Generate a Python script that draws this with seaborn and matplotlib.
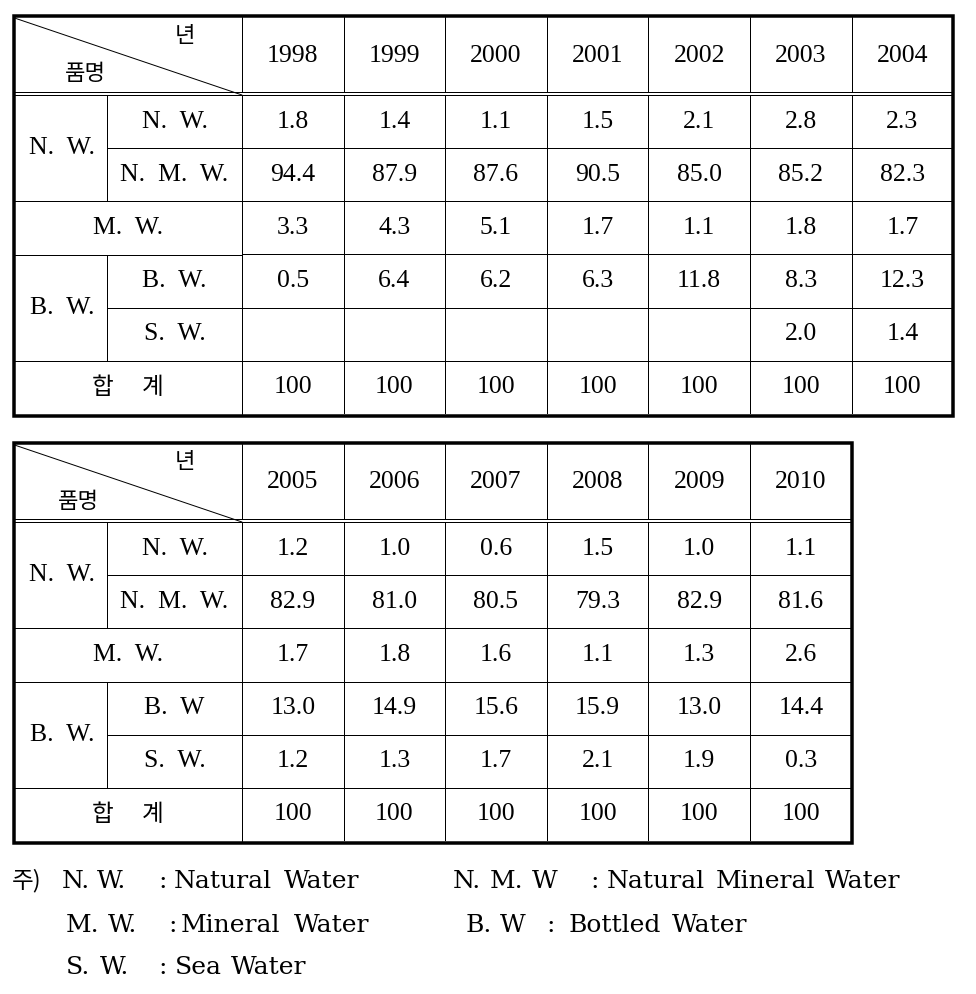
import numpy as np
import pandas as pd
import matplotlib
matplotlib.use("Agg")
import matplotlib.pyplot as plt
from matplotlib.colors import ListedColormap
import seaborn as sns

# share of each water type (%), by year
years_a = [1998, 1999, 2000, 2001, 2002, 2003, 2004]
nw_a = [1.8, 1.4, 1.1, 1.5, 2.1, 2.8, 2.3]
nmw_a = [94.4, 87.9, 87.6, 90.5, 85.0, 85.2, 82.3]
mw_a = [3.3, 4.3, 5.1, 1.7, 1.1, 1.8, 1.7]
bw_a = [0.5, 6.4, 6.2, 6.3, 11.8, 8.3, 12.3]
sw_a = [None, None, None, None, None, 2.0, 1.4]
total_a = [100, 100, 100, 100, 100, 100, 100]

years_b = [2005, 2006, 2007, 2008, 2009, 2010]
nw_b = [1.2, 1.0, 0.6, 1.5, 1.0, 1.1]
nmw_b = [82.9, 81.0, 80.5, 79.3, 82.9, 81.6]
mw_b = [1.7, 1.8, 1.6, 1.1, 1.3, 2.6]
bw_b = [13.0, 14.9, 15.6, 15.9, 13.0, 14.4]
sw_b = [1.2, 1.3, 1.7, 2.1, 1.9, 0.3]
total_b = [100, 100, 100, 100, 100, 100]

notes = [
    [("N.", 62), ("W.", 97), (":", 158), ("Natural", 174), ("Water", 284),
     ("N.", 453), ("M.", 490), ("W", 532), (":", 590), ("Natural", 607), ("Mineral", 716), ("Water", 825)],
    [("M.", 66), ("W.", 108), (":", 168), ("Mineral", 181), ("Water", 294),
     ("B.", 466), ("W", 500), (":", 546), ("Bottled", 569), ("Water", 672)],
    [("S.", 66), ("W.", 100), (":", 158), ("Sea", 175), ("Water", 231)],
]

sns.set_theme(style="white")
SERIF = ["Liberation Serif", "Noto Sans CJK KR"]
KR = ["Noto Sans CJK KR", "DejaVu Sans"]
plt.rcParams["font.family"] = SERIF
plt.rcParams["text.color"] = "black"

W, H = 976, 994
fig = plt.figure(figsize=(W / 100, H / 100), dpi=100)
px = 0.72  # points per pixel


def fmt(v, total=False):
    if v is None:
        return ""
    return "{:d}".format(v) if total else "{:.1f}".format(v)


def draw_table(years, rows, total, top, hdr, bottom, bw_label):
    ncol = len(years)
    x0, cw = 242, 101.6
    right = x0 + ncol * cw
    body_top = hdr + 3

    # numeric body as a seaborn heatmap
    df = pd.DataFrame(rows + [total], columns=years, dtype=float)
    labels = [[fmt(v) for v in r] for r in rows] + [[fmt(v, True) for v in total]]
    hax = fig.add_axes([x0 / W, 1 - bottom / H, (right - x0) / W, (bottom - body_top) / H])
    sns.heatmap(df.fillna(0), ax=hax, cmap=ListedColormap(["white"]), cbar=False,
                annot=np.array(labels), fmt="", linewidths=1 * px, linecolor="black",
                xticklabels=False, yticklabels=False,
                annot_kws={"fontsize": 18.5, "family": SERIF, "color": "black"})

    ax = fig.add_axes([0, 0, 1, 1])
    ax.set_xlim(0, W)
    ax.set_ylim(H, 0)
    ax.axis("off")

    left = 13.5
    rh = (bottom - body_top) / 6
    ys = [body_top + i * rh for i in range(7)]
    lw = 1 * px

    # header
    ax.plot([left, right], [hdr, hdr], color="black", lw=lw)
    ax.plot([left, right], [body_top, body_top], color="black", lw=lw)
    for i in range(ncol + 1):
        xe = x0 + i * cw
        ax.plot([xe, xe], [top, hdr], color="black", lw=lw)
    for i, y in enumerate(years):
        ax.text(x0 + (i + 0.5) * cw, (top + hdr) / 2 + 1, str(y), ha="center",
                va="center", fontsize=18.5, family=SERIF, color="black")
    ax.plot([left + 1, x0], [top + 1, body_top], color="black", lw=lw)
    ax.text(185, top + 18, "년", ha="center", va="center", fontsize=16, family=KR)
    ax.text(x0 - 157 if top < 100 else x0 - 164, hdr - 18, "품명", ha="center",
            va="center", fontsize=16, family=KR)

    # row label block
    xs = 107
    ax.plot([x0, x0], [body_top, bottom], color="black", lw=lw)
    ax.plot([xs, xs], [ys[0], ys[2]], color="black", lw=lw)
    ax.plot([xs, xs], [ys[3], ys[5]], color="black", lw=lw)
    for k in (2, 3, 5):
        ax.plot([left, x0], [ys[k], ys[k]], color="black", lw=lw)
    for k in (1, 4):
        ax.plot([xs, x0], [ys[k], ys[k]], color="black", lw=lw)

    def lab(x, y, s):
        ax.text(x, y, s, ha="center", va="center", fontsize=18.5, family=SERIF, color="black")

    cx_main = (left + xs) / 2 + 2
    cx_sub = (xs + x0) / 2
    lab(cx_main, ys[1], "N.  W.")
    lab(cx_sub, (ys[0] + ys[1]) / 2, "N.  W.")
    lab(cx_sub, (ys[1] + ys[2]) / 2, "N.  M.  W.")
    lab((left + x0) / 2, (ys[2] + ys[3]) / 2, "M.  W.")
    lab(cx_main, ys[4], "B.  W.")
    lab(cx_sub, (ys[3] + ys[4]) / 2, bw_label)
    lab(cx_sub, (ys[4] + ys[5]) / 2, "S.  W.")
    ax.text(103, (ys[5] + ys[6]) / 2, "합", ha="center", va="center", fontsize=17, family=KR)
    ax.text(153, (ys[5] + ys[6]) / 2, "계", ha="center", va="center", fontsize=17, family=KR)

    # thick outer border
    ax.add_patch(plt.Rectangle((left, top - 1.5), right - left, bottom - top + 3,
                               fill=False, edgecolor="black", lw=3.5 * px))
    return ax


draw_table(years_a, [nw_a, nmw_a, mw_a, bw_a, sw_a], total_a, 17, 92, 414, "B.  W.")
ax = draw_table(years_b, [nw_b, nmw_b, mw_b, bw_b, sw_b], total_b, 444, 519, 841, "B.  W")

# footnotes
ax.text(12, 881, "주)", ha="left", va="center", fontsize=17, family=KR)
for line, y in zip(notes, [881, 925, 968]):
    for word, x in line:
        ax.text(x, y, word, ha="left", va="center", fontsize=18, family="DejaVu Serif")

fig.savefig("out.png", dpi=100)
